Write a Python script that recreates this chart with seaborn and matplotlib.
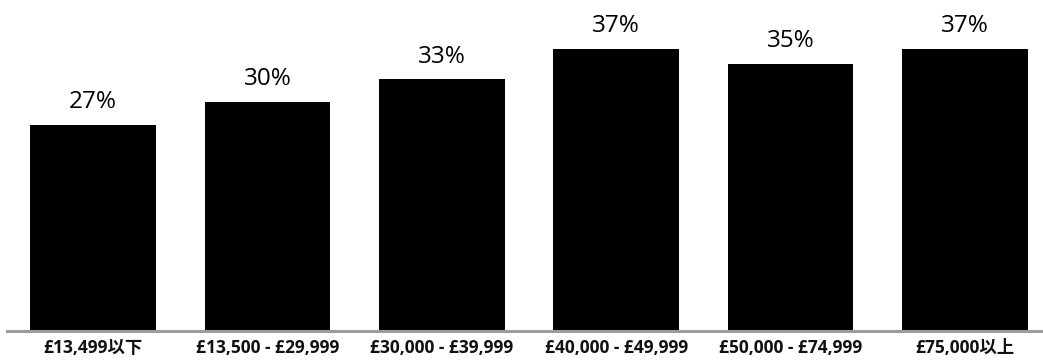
import matplotlib
matplotlib.use("Agg")
import matplotlib.pyplot as plt
import seaborn as sns
import pandas as pd

categories = ["£13,499以下", "£13,500 - £29,999", "£30,000 - £39,999",
              "£40,000 - £49,999", "£50,000 - £74,999", "£75,000以上"]
values = [27, 30, 33, 37, 35, 37]
value_labels = ["27%", "30%", "33%", "37%", "35%", "37%"]

sns.set_theme(style="white")
plt.rcParams['font.family'] = ['Open Sans', 'Noto Sans CJK JP', 'DejaVu Sans']

df = pd.DataFrame({"category": categories, "value": values})

base = 330.5
fig = plt.figure(figsize=(10.43, 3.61), dpi=100)
ax = fig.add_axes([7/1043, 1 - base/361, (1043-7)/1043, base/361])
sns.barplot(data=df, x="category", y="value", color="black", width=0.72,
            saturation=1, ax=ax, order=categories, linewidth=0)

for i, (v, lab) in enumerate(zip(values, value_labels)):
    ax.annotate(lab, (i, v), xytext=(0, 7.5), textcoords="offset points",
                ha="center", va="bottom", fontsize=17.5, color="#000000",
                fontweight="medium")

ax.set_xlim(-0.493, 5.447)
ax.set_ylim(0, base/7.62)
ax.set_xlabel("")
ax.set_ylabel("")
ax.set_yticks([])
for s in ["top", "left", "right"]:
    ax.spines[s].set_visible(False)
ax.spines["bottom"].set_color("#9c9ca0")
ax.spines["bottom"].set_linewidth(2.2)
ax.tick_params(axis="x", length=0, pad=6, labelsize=12.5)
for t in ax.get_xticklabels():
    t.set_fontweight("bold")
    t.set_color("#111111")

fig.savefig("out.png", dpi=100)
